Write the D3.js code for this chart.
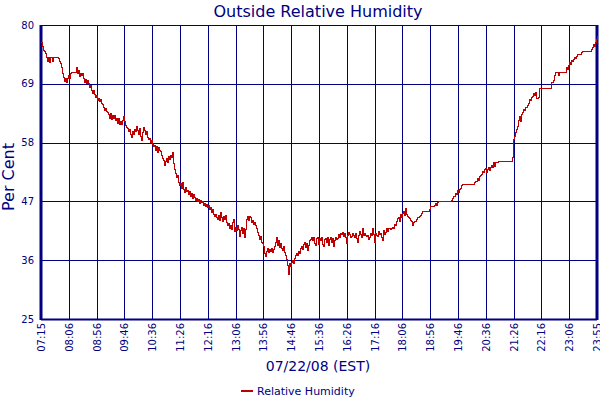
<!DOCTYPE html>
<html><head><meta charset="utf-8">
<script src="https://cdn.jsdelivr.net/npm/d3@7"></script>
<style>body{margin:0;background:#fff}svg{display:block}text{font-family:"DejaVu Sans",Verdana,sans-serif;fill:#000080}</style>
</head><body><svg id="c" width="600" height="400"></svg>
<script>
const title = "Outside Relative Humidity";
const yTitle = "Per Cent";
const xTitle = "07/22/08 (EST)";
const seriesName = "Relative Humidity";
const startTime = "07:15", endTime = "23:55"; // readings evenly spaced between
const yTicks = [25, 36, 47, 58, 69, 80];
const xTickLabels = ["07:15","08:06","08:56","09:46","10:36","11:26","12:16","13:06","13:56","14:46","15:36","16:26","17:16","18:06","18:56","19:46","20:36","21:26","22:16","23:06","23:55"];
const humidity = [
76.8,76.0,75.2,75.0,74.6,74.0,73.2,74.0,73.0,74.0,
74.0,73.2,74.0,74.0,74.0,74.0,74.0,73.8,73.2,72.8,
72.0,71.0,70.2,69.5,70.0,69.3,70.0,70.6,70.0,71.0,
71.2,71.2,71.2,71.2,71.2,72.0,71.0,71.4,70.4,71.0,
70.6,71.0,70.0,69.3,69.8,69.0,69.6,69.0,68.4,68.6,
67.8,67.2,67.8,67.0,66.4,66.8,65.9,66.2,65.6,66.0,
65.4,65.2,64.6,64.0,64.4,63.8,63.6,63.2,62.6,63.4,
62.4,63.0,62.6,63.0,62.2,62.6,61.6,62.6,61.4,62.0,
61.4,62.2,62.8,62.0,61.2,60.8,60.6,60.0,60.4,59.6,
59.0,60.0,59.6,60.4,60.0,61.0,60.2,59.6,60.6,59.2,
58.4,59.8,60.8,60.2,59.6,60.0,59.0,58.6,58.8,58.0,
58.4,57.6,57.2,57.4,56.6,57.2,56.2,57.0,56.6,56.4,
55.6,55.0,54.6,53.8,54.4,55.0,54.2,55.4,54.8,55.6,
55.2,56.2,54.0,53.0,52.2,51.4,51.8,50.6,50.0,50.4,
49.4,50.6,49.2,48.6,49.6,48.8,49.0,48.2,48.8,48.0,
48.4,47.6,48.2,47.8,47.2,47.6,47.0,47.4,46.6,47.2,
46.8,47.0,46.2,46.6,46.0,46.4,45.8,46.2,45.4,45.8,
45.0,45.4,44.6,44.2,44.6,44.0,43.6,44.4,43.4,45.0,
44.0,43.2,44.2,43.6,44.4,43.0,42.4,42.8,42.0,42.4,
41.8,43.0,43.6,41.4,42.2,41.6,42.4,41.8,40.4,41.6,
42.2,41.0,42.0,40.2,41.8,43.6,44.2,43.4,44.2,44.0,
43.0,43.4,42.6,43.0,42.4,42.0,41.2,40.6,39.8,40.4,
39.4,39.2,38.6,37.2,36.6,37.6,38.2,37.4,38.0,37.6,
38.2,37.4,38.0,38.6,39.4,40.2,38.8,39.6,38.4,39.2,
38.2,37.8,38.6,37.4,36.8,36.2,35.0,33.4,35.4,34.8,
35.6,36.0,35.4,36.4,36.8,37.2,36.8,37.6,37.2,38.2,
38.6,38.0,39.0,39.4,38.4,39.2,37.8,38.8,39.6,39.8,
40.2,39.6,40.2,39.2,38.8,40.0,40.2,39.0,40.0,39.6,
40.2,39.0,38.6,39.8,40.0,39.4,40.2,38.8,39.8,40.2,
39.4,40.0,38.6,39.6,40.2,39.8,40.0,40.8,40.2,41.0,
40.8,41.2,40.4,41.0,40.2,39.2,40.6,41.2,40.8,40.2,
40.4,41.0,40.6,40.2,41.0,40.0,39.4,40.6,41.4,40.8,
40.2,42.0,40.6,41.0,40.6,40.4,40.6,39.8,40.2,41.0,
40.6,42.0,40.8,39.4,41.0,40.6,40.4,41.4,40.8,41.0,
40.2,39.6,41.6,40.8,41.2,42.0,41.4,42.0,42.0,41.8,
42.0,42.2,42.0,42.6,42.4,43.2,43.8,44.0,43.2,44.6,
44.0,44.8,45.2,44.4,45.6,44.6,44.2,44.0,43.8,43.4,
43.2,42.4,43.0,43.2,43.2,43.6,44.0,44.0,44.2,44.4,
44.8,45.2,45.2,45.2,45.2,45.2,45.2,45.2,45.4,46.0,
46.0,46.0,46.0,46.2,46.6,46.2,46.8,47.0,47.0,47.0,
47.0,47.0,47.0,47.0,47.0,47.0,47.0,47.0,47.0,47.0,
47.2,47.6,48.0,48.0,48.4,48.2,49.0,48.6,49.2,49.4,
50.0,50.2,50.2,50.2,50.2,50.2,50.2,50.2,50.2,50.2,
50.2,50.2,50.2,50.6,50.8,50.8,51.2,51.0,51.6,51.8,
52.0,52.6,52.4,53.0,53.2,52.4,53.0,53.4,52.8,53.4,
53.8,53.4,54.2,53.6,54.2,54.2,54.2,54.4,54.4,54.4,
54.4,54.4,54.4,54.4,54.4,54.4,54.4,54.4,54.4,54.4,
54.4,55.2,58.6,59.2,59.8,60.4,61.0,62.2,62.8,62.0,
63.2,63.6,64.2,64.0,64.6,64.6,65.0,65.4,66.0,65.8,
66.4,66.6,67.2,66.8,67.4,66.2,66.2,66.4,68.2,68.2,
68.2,68.2,68.2,68.2,68.2,68.2,68.2,68.2,68.2,68.2,
69.2,69.2,69.6,70.6,71.2,71.2,71.2,70.6,71.2,71.2,
71.2,71.2,71.2,71.2,71.2,72.0,71.6,72.4,73.0,72.6,
73.4,73.2,73.6,74.0,73.8,74.2,74.4,74.4,74.4,74.4,
74.8,75.0,75.0,75.0,75.0,75.0,75.0,75.0,75.0,75.0,
75.4,75.8,76.4,76.0,76.8,77.2,78.0
];

const toMin = s => { const [h,m] = s.split(":").map(Number); return h*60+m; };
const t0 = toMin(startTime), t1 = toMin(endTime);
const span = t1 - t0;
const data = humidity.map((v,i) => ({t: i*span/(humidity.length-1), v}));

const svg = d3.select("#c");
const L = 41, R = 597, T = 25, B = 319;
const x = d3.scaleLinear().domain([0, span]).range([L, R]);
const y = d3.scaleLinear().domain([25, 80]).range([B, T]);
const tickPos = xTickLabels.map((d,i) => i*span/(xTickLabels.length-1));

const navy = "#000080";
// grid
svg.append("g").selectAll("line").data(yTicks).join("line")
  .attr("x1", L).attr("x2", R).attr("y1", d=>Math.round(y(d))+0.5).attr("y2", d=>Math.round(y(d))+0.5)
  .attr("stroke", navy).attr("stroke-width", 1);
svg.append("g").selectAll("line").data(tickPos).join("line")
  .attr("x1", d=>Math.round(x(d))+0.5).attr("x2", d=>Math.round(x(d))+0.5).attr("y1", T).attr("y2", B)
  .attr("stroke", navy).attr("stroke-width", 1);
// borders
svg.append("line").attr("x1", L).attr("x2", L).attr("y1", T).attr("y2", B+1).attr("stroke", navy).attr("stroke-width", 3);
svg.append("line").attr("x1", R).attr("x2", R).attr("y1", T).attr("y2", B+1).attr("stroke", navy).attr("stroke-width", 3);
svg.append("line").attr("x1", L).attr("x2", R).attr("y1", B+0.5).attr("y2", B+0.5).attr("stroke", navy).attr("stroke-width", 2);

// data line
const line = d3.line().x(d=>x(d.t)).y(d=>y(d.v)).curve(d3.curveStepAfter);
svg.append("path").datum(data).attr("d", line).attr("fill","none")
  .attr("stroke","#c00000").attr("stroke-width",1).attr("shape-rendering","crispEdges");

// y tick labels
svg.append("g").selectAll("text").data(yTicks).join("text")
  .attr("x", 34).attr("y", d=>y(d)).attr("dy","0.35em").attr("text-anchor","end")
  .attr("font-size", 10).text(d=>d);
// x tick labels
svg.append("g").selectAll("text").data(xTickLabels).join("text")
  .attr("transform", (d,i)=>`translate(${x(tickPos[i])+0.5},${B+4}) rotate(-90)`)
  .attr("dy","0.35em").attr("text-anchor","end").attr("font-size", 10).text(d=>d);

// titles
svg.append("text").attr("x", 318).attr("y", 17).attr("text-anchor","middle").attr("font-size",16).text(title);
svg.append("text").attr("x", 318).attr("y", 371).attr("text-anchor","middle").attr("font-size",14).text(xTitle);
svg.append("text").attr("transform","translate(14,177) rotate(-90)").attr("text-anchor","middle").attr("font-size",16).text(yTitle);

// legend
svg.append("line").attr("x1",241).attr("x2",253).attr("y1",391).attr("y2",391).attr("stroke","#c00000").attr("stroke-width",2);
svg.append("text").attr("x",257).attr("y",391).attr("dy","0.35em").attr("font-size",11).text(seriesName);
</script></body></html>
